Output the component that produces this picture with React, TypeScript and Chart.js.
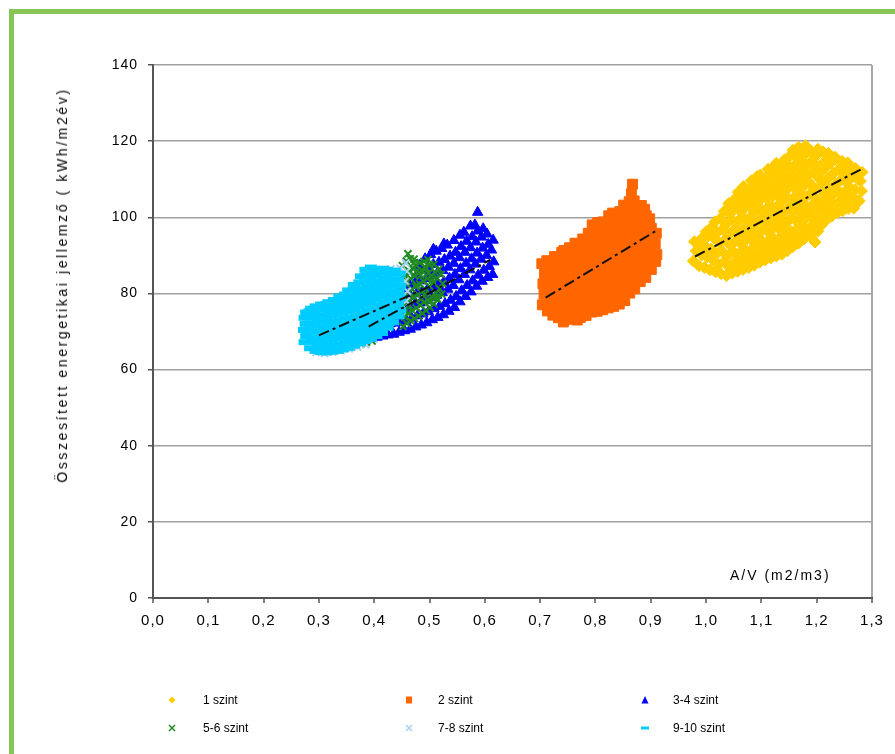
import React, { useEffect, useRef } from "react";
import { Chart, registerables } from "chart.js";

Chart.register(...registerables);

type P = [number, number];

const seriesNames = ["1 szint", "2 szint", "3-4 szint", "5-6 szint", "7-8 szint", "9-10 szint"];
const seriesColors = ["#FFCC00", "#FF6600", "#0000FF", "#1E8A1E", "#A6D2F8", "#00CCFF"];

const yAxisTitle = "Összesített energetikai jellemző ( kWh/m2év)";
const xAxisTitle = "A/V (m2/m3)";

// 1 szint
const szint1: P[] = [
  [0.977,88.5],[0.982,91.2],[0.979,93.6],
  [0.987,87.3],[0.992,90.1],[0.989,92.8],[0.994,94.7],
  [0.997,86.8],[1.002,89.6],[0.999,92.3],[1.004,95.1],[1.000,96.2],
  [1.007,86.2],[1.012,88.9],[1.009,91.7],[1.014,94.6],[1.010,97.4],
  [1.017,85.7],[1.022,87.6],[1.019,90.4],[1.024,93.3],[1.020,96.0],[1.016,98.8],
  [1.027,85.2],[1.032,88.3],[1.029,91.1],[1.034,94.0],[1.030,96.9],[1.026,99.7],[1.033,101.6],
  [1.037,84.7],[1.042,86.9],[1.039,89.8],[1.044,92.6],[1.040,95.4],[1.036,98.2],[1.043,100.9],[1.041,103.6],
  [1.047,85.3],[1.052,88.1],[1.049,91.0],[1.054,93.9],[1.050,96.6],[1.046,99.5],[1.053,102.3],[1.051,104.7],
  [1.057,85.8],[1.062,87.4],[1.059,90.2],[1.064,92.9],[1.060,95.8],[1.056,98.7],[1.063,101.4],[1.061,104.1],[1.058,106.6],
  [1.067,86.3],[1.072,89.0],[1.069,91.8],[1.074,94.6],[1.070,97.3],[1.066,100.2],[1.073,103.0],[1.071,105.7],[1.068,108.1],
  [1.077,86.8],[1.082,88.2],[1.079,90.9],[1.084,93.7],[1.080,96.5],[1.076,99.3],[1.083,102.1],[1.081,104.8],[1.078,107.5],[1.082,109.6],
  [1.087,87.4],[1.092,89.9],[1.089,92.7],[1.094,95.5],[1.090,98.3],[1.086,101.1],[1.093,103.9],[1.091,106.6],[1.088,109.3],[1.092,110.7],
  [1.097,88.2],[1.102,91.3],[1.099,94.1],[1.104,96.9],[1.100,99.7],[1.096,102.6],[1.103,105.4],[1.101,108.2],[1.098,111.1],
  [1.107,88.8],[1.112,90.4],[1.109,93.2],[1.114,96.0],[1.110,98.8],[1.106,101.7],[1.113,104.5],[1.111,107.3],[1.108,110.0],[1.112,112.6],
  [1.117,89.3],[1.122,92.1],[1.119,94.9],[1.124,97.8],[1.120,100.6],[1.116,103.3],[1.123,106.2],[1.121,109.0],[1.118,111.8],[1.122,113.2],
  [1.127,89.8],[1.132,91.4],[1.129,93.9],[1.134,96.7],[1.130,99.5],[1.126,102.4],[1.133,105.1],[1.131,107.9],[1.128,110.7],[1.132,113.5],[1.127,114.2],
  [1.137,90.3],[1.142,92.8],[1.139,95.6],[1.144,98.4],[1.140,101.3],[1.136,104.0],[1.143,106.9],[1.141,109.6],[1.138,112.4],[1.142,115.1],
  [1.147,91.2],[1.152,94.1],[1.149,96.9],[1.154,99.8],[1.150,102.6],[1.146,105.4],[1.153,108.3],[1.151,111.1],[1.148,113.8],[1.152,116.2],
  [1.157,92.3],[1.162,93.5],[1.159,96.2],[1.164,99.0],[1.160,101.9],[1.156,104.7],[1.163,107.5],[1.161,110.3],[1.158,113.2],[1.162,115.9],[1.157,117.6],
  [1.167,93.2],[1.172,95.3],[1.169,98.1],[1.174,100.9],[1.170,103.7],[1.166,106.5],[1.173,109.4],[1.171,112.2],[1.168,114.9],[1.172,117.7],[1.167,118.4],
  [1.177,94.3],[1.182,96.8],[1.179,99.6],[1.184,102.5],[1.180,105.3],[1.176,108.1],[1.183,110.9],[1.181,113.7],[1.178,116.5],[1.180,118.8],
  [1.187,95.2],[1.192,97.9],[1.189,100.7],[1.194,103.5],[1.190,106.4],[1.186,109.2],[1.193,112.0],[1.191,114.8],[1.188,117.6],
  [1.197,93.5],[1.202,96.3],[1.199,99.1],[1.204,101.9],[1.200,104.7],[1.196,107.6],[1.203,110.4],[1.201,113.2],[1.198,116.0],[1.202,117.9],
  [1.207,97.7],[1.212,100.4],[1.209,103.2],[1.214,106.1],[1.210,108.9],[1.206,111.7],[1.213,114.5],[1.211,117.2],
  [1.217,99.2],[1.222,101.8],[1.219,104.6],[1.224,107.4],[1.220,110.2],[1.216,113.0],[1.223,115.8],[1.221,116.8],
  [1.227,100.3],[1.232,103.1],[1.229,105.9],[1.234,108.7],[1.230,111.5],[1.226,114.3],[1.233,115.8],
  [1.237,101.2],[1.242,104.2],[1.239,107.0],[1.244,109.8],[1.240,112.6],[1.236,115.4],
  [1.247,101.7],[1.252,103.6],[1.249,106.4],[1.254,109.2],[1.250,112.0],[1.246,114.7],
  [1.257,102.3],[1.262,105.1],[1.259,107.9],[1.264,110.6],[1.260,113.4],[1.256,114.3],
  [1.267,102.4],[1.272,104.4],[1.269,107.2],[1.274,110.0],[1.270,112.8],
  [1.277,104.3],[1.281,106.9],[1.279,109.5],[1.282,111.8],
];

// 2 szint
const szint2: P[] = [
  [0.704,77.0],[0.707,79.8],[0.705,82.5],[0.708,85.2],[0.703,87.8],
  [0.713,75.4],[0.717,78.1],[0.714,80.9],[0.718,83.6],[0.715,86.3],[0.712,88.6],
  [0.723,74.3],[0.727,77.0],[0.724,79.7],[0.728,82.4],[0.725,85.1],[0.722,87.8],[0.726,89.7],
  [0.733,73.6],[0.737,76.2],[0.734,78.9],[0.738,81.6],[0.735,84.3],[0.732,87.0],[0.736,89.6],[0.739,90.8],
  [0.742,72.5],[0.747,75.1],[0.744,77.8],[0.748,80.5],[0.745,83.2],[0.742,85.9],[0.746,88.6],[0.743,91.3],
  [0.753,73.2],[0.757,75.9],[0.754,78.6],[0.758,81.3],[0.755,84.0],[0.752,86.7],[0.756,89.4],[0.753,92.0],
  [0.767,73.0],[0.763,74.6],[0.766,77.3],[0.762,80.0],[0.765,82.7],[0.768,85.4],[0.764,88.1],[0.767,90.8],[0.763,93.2],
  [0.773,73.7],[0.777,76.4],[0.774,79.1],[0.778,81.8],[0.775,84.5],[0.772,87.2],[0.776,89.9],[0.773,92.6],[0.777,94.3],
  [0.783,74.2],[0.787,76.9],[0.784,79.6],[0.788,82.3],[0.785,85.0],[0.782,87.7],[0.786,90.4],[0.783,93.1],[0.787,95.8],
  [0.793,75.1],[0.797,77.8],[0.794,80.5],[0.798,83.2],[0.795,85.9],[0.792,88.6],[0.796,91.3],[0.793,94.0],[0.797,96.7],[0.794,98.0],
  [0.803,75.3],[0.807,78.0],[0.804,80.7],[0.808,83.4],[0.805,86.1],[0.802,88.8],[0.806,91.5],[0.803,94.2],[0.807,96.9],[0.804,98.6],
  [0.813,75.7],[0.817,77.2],[0.814,79.9],[0.818,82.6],[0.815,85.3],[0.812,88.0],[0.816,90.7],[0.813,93.4],[0.817,96.1],[0.814,98.8],
  [0.823,76.2],[0.827,78.9],[0.824,81.6],[0.828,84.3],[0.825,87.0],[0.822,89.7],[0.826,92.4],[0.823,95.1],[0.827,97.8],[0.824,100.4],
  [0.833,76.6],[0.837,78.4],[0.834,81.1],[0.838,83.8],[0.835,86.5],[0.832,89.2],[0.836,91.9],[0.833,94.6],[0.837,97.3],[0.834,100.0],[0.831,101.1],
  [0.843,77.2],[0.847,79.9],[0.844,82.6],[0.848,85.3],[0.845,88.0],[0.842,90.7],[0.846,93.4],[0.843,96.1],[0.847,98.8],[0.844,101.5],
  [0.853,78.1],[0.857,80.7],[0.854,83.4],[0.858,86.1],[0.855,88.8],[0.852,91.5],[0.856,94.2],[0.853,96.9],[0.857,99.6],[0.854,102.3],[0.851,103.2],
  [0.862,80.1],[0.865,82.8],[0.861,85.5],[0.864,88.2],[0.862,90.9],[0.859,93.6],[0.863,96.3],[0.860,99.0],[0.864,101.7],[0.861,104.1],[0.865,106.2],[0.867,108.7],
  [0.871,81.2],[0.874,83.9],[0.870,86.6],[0.873,89.3],[0.871,92.0],[0.868,94.7],[0.872,97.4],[0.869,100.1],[0.873,102.8],[0.870,104.3],
  [0.881,83.1],[0.884,85.8],[0.880,88.5],[0.883,91.2],[0.881,93.9],[0.878,96.6],[0.882,99.3],[0.879,102.0],[0.883,103.1],
  [0.891,84.2],[0.894,86.9],[0.890,89.6],[0.893,92.3],[0.891,95.0],[0.888,97.7],[0.892,100.4],[0.889,102.1],
  [0.901,86.3],[0.904,89.0],[0.900,91.7],[0.903,94.4],[0.901,97.1],[0.898,99.6],
  [0.909,88.4],[0.911,90.2],[0.908,93.0],[0.910,95.8],
];

// 3-4 szint
const szint34: P[] = [
  [0.385,68.4],[0.388,71.0],
  [0.395,68.2],[0.398,70.9],[0.393,72.8],
  [0.405,68.5],[0.408,71.4],[0.403,73.9],
  [0.415,68.8],[0.418,71.6],[0.413,74.5],
  [0.425,69.1],[0.428,72.0],[0.423,74.8],[0.426,76.2],
  [0.435,69.3],[0.438,72.2],[0.433,75.1],[0.436,77.4],
  [0.445,69.8],[0.448,72.7],[0.443,75.6],[0.446,78.5],
  [0.455,70.2],[0.458,73.0],[0.453,75.9],[0.456,78.8],[0.454,81.0],
  [0.465,70.6],[0.468,73.5],[0.463,76.4],[0.466,79.3],[0.464,82.2],
  [0.475,71.2],[0.478,74.1],[0.473,77.0],[0.476,79.9],[0.474,82.8],[0.477,85.0],
  [0.485,71.7],[0.488,74.6],[0.483,77.5],[0.486,80.4],[0.484,83.3],[0.487,86.2],[0.482,87.4],
  [0.495,72.3],[0.498,75.2],[0.493,78.1],[0.496,81.0],[0.494,83.9],[0.497,86.8],[0.492,89.1],
  [0.505,73.1],[0.508,76.0],[0.503,78.9],[0.506,81.8],[0.504,84.7],[0.507,87.6],[0.502,90.2],[0.507,91.6],
  [0.515,73.7],[0.518,76.6],[0.513,79.5],[0.516,82.4],[0.514,85.3],[0.517,88.2],[0.512,91.1],
  [0.525,74.4],[0.528,77.3],[0.523,80.2],[0.526,83.1],[0.524,86.0],[0.527,88.9],[0.522,91.8],[0.526,93.0],
  [0.535,75.3],[0.538,78.2],[0.533,81.1],[0.536,84.0],[0.534,86.9],[0.537,89.8],[0.532,92.7],
  [0.545,76.3],[0.548,79.2],[0.543,82.1],[0.546,85.0],[0.544,87.9],[0.547,90.8],[0.544,93.9],
  [0.555,77.8],[0.558,80.7],[0.553,83.6],[0.556,86.5],[0.554,89.4],[0.557,92.3],[0.555,95.3],
  [0.565,79.2],[0.568,82.1],[0.563,85.0],[0.566,87.9],[0.564,90.8],[0.567,93.7],[0.562,96.1],
  [0.575,80.4],[0.578,83.3],[0.573,86.2],[0.576,89.1],[0.574,92.0],[0.577,94.9],[0.574,97.7],
  [0.585,81.9],[0.588,84.8],[0.583,87.7],[0.586,90.6],[0.584,93.5],[0.587,96.4],[0.582,98.0],[0.587,101.3],
  [0.595,83.2],[0.598,86.1],[0.593,89.0],[0.596,91.9],[0.594,94.8],[0.597,97.0],
  [0.605,84.2],[0.608,87.1],[0.603,90.0],[0.606,92.9],[0.604,95.6],
  [0.614,85.0],[0.616,88.3],[0.612,91.4],[0.615,94.0],
];

// 5-6 szint
const szint56: P[] = [
  [0.352,66.1],[0.357,67.9],
  [0.364,66.4],[0.368,68.6],
  [0.376,66.7],[0.373,69.3],[0.378,71.1],
  [0.386,67.2],[0.383,70.0],[0.388,72.5],
  [0.396,67.5],[0.393,70.3],[0.398,73.0],[0.395,74.7],
  [0.406,71.2],[0.403,73.5],[0.408,76.0],
  [0.416,72.6],[0.413,74.4],[0.418,76.9],
  [0.426,73.4],[0.423,75.2],[0.428,77.6],[0.425,79.5],
  [0.436,74.1],[0.433,75.9],[0.438,78.3],[0.435,81.0],
  [0.446,74.6],[0.443,76.5],[0.448,79.0],[0.445,81.7],[0.447,84.1],
  [0.452,71.3],[0.455,73.8],[0.451,76.3],[0.454,79.1],[0.452,81.9],[0.455,84.7],[0.451,87.3],
  [0.459,72.1],[0.462,74.8],[0.458,77.6],[0.461,80.4],[0.459,83.2],[0.462,86.0],[0.458,88.5],[0.461,90.4],
  [0.466,72.8],[0.469,75.5],[0.465,78.3],[0.468,81.1],[0.466,83.9],[0.469,86.7],[0.465,89.1],
  [0.473,73.4],[0.476,76.2],[0.472,79.0],[0.475,81.8],[0.473,84.6],[0.476,87.4],[0.472,89.0],
  [0.480,74.1],[0.483,76.9],[0.479,79.7],[0.482,82.5],[0.480,85.3],[0.483,88.1],
  [0.487,74.8],[0.490,77.6],[0.486,80.4],[0.489,83.2],[0.487,86.0],[0.490,88.4],
  [0.494,75.5],[0.497,78.3],[0.493,81.1],[0.496,83.9],[0.494,86.7],[0.497,88.9],
  [0.501,76.3],[0.504,79.1],[0.500,81.9],[0.503,84.7],[0.501,87.5],
  [0.508,77.2],[0.511,80.0],[0.507,82.8],[0.510,85.6],[0.508,87.6],
  [0.515,78.4],[0.518,81.2],[0.514,84.0],[0.517,86.4],
  [0.522,79.8],[0.524,82.6],[0.521,85.0],
  [0.456,75.2],[0.463,77.0],[0.470,79.4],[0.477,82.2],[0.484,84.8],[0.491,86.8],[0.498,85.3],[0.505,83.5],
  [0.457,82.6],[0.464,85.4],[0.471,87.9],[0.478,86.0],[0.485,78.6],[0.492,79.9],[0.499,77.8],[0.512,79.0],
];

// 7-8 szint
const szint78: P[] = [
  [0.295,64.5],[0.298,67.0],[0.293,69.5],
  [0.310,64.2],[0.313,66.8],[0.308,69.4],[0.311,72.0],
  [0.325,64.6],[0.328,67.2],[0.323,69.8],[0.326,72.4],[0.324,74.5],
  [0.340,65.0],[0.343,67.6],[0.338,70.2],[0.341,72.8],[0.339,75.4],
  [0.355,65.4],[0.358,68.0],[0.353,70.6],[0.356,73.2],[0.354,75.8],[0.357,78.0],
  [0.370,65.9],[0.373,68.5],[0.368,71.1],[0.371,73.7],[0.369,76.3],[0.372,78.9],
  [0.385,66.5],[0.388,69.1],[0.383,71.7],[0.386,74.3],[0.384,76.9],[0.387,79.5],[0.385,81.5],
  [0.400,68.0],[0.403,70.4],[0.398,72.6],[0.401,75.0],[0.399,77.6],[0.402,80.2],[0.400,82.8],
  [0.415,70.2],[0.418,72.8],[0.413,75.2],[0.416,77.8],[0.414,80.4],[0.417,83.0],[0.415,85.2],
  [0.430,72.5],[0.433,74.9],[0.428,77.3],[0.431,79.8],[0.429,82.2],[0.432,84.6],[0.430,86.4],
  [0.445,75.0],[0.448,77.4],[0.443,79.8],[0.446,82.2],[0.444,84.6],[0.447,86.6],
  [0.458,78.0],[0.460,80.6],[0.456,83.2],[0.459,85.8],[0.457,88.0],
];

// 9-10 szint
const szint910: P[] = [
  [0.274,67.2],[0.277,68.8],[0.273,70.4],[0.276,72.0],[0.274,73.6],[0.277,75.0],
  [0.284,65.6],[0.287,67.3],[0.283,68.9],[0.286,70.5],[0.284,72.1],[0.287,73.7],[0.283,75.3],[0.286,76.0],
  [0.294,64.9],[0.297,66.4],[0.293,68.0],[0.296,69.6],[0.294,71.2],[0.297,72.8],[0.293,74.4],[0.296,76.0],[0.294,76.6],
  [0.304,64.6],[0.307,66.2],[0.303,67.8],[0.306,69.4],[0.304,71.0],[0.307,72.6],[0.303,74.2],[0.306,75.8],[0.304,77.1],
  [0.314,64.5],[0.317,66.0],[0.313,67.6],[0.316,69.2],[0.314,70.8],[0.317,72.4],[0.313,74.0],[0.316,75.6],[0.314,77.2],[0.317,77.7],
  [0.324,64.7],[0.327,66.3],[0.323,67.9],[0.326,69.5],[0.324,71.1],[0.327,72.7],[0.323,74.3],[0.326,75.9],[0.324,77.5],[0.327,78.3],
  [0.334,64.9],[0.337,66.5],[0.333,68.1],[0.336,69.7],[0.334,71.3],[0.337,72.9],[0.333,74.5],[0.336,76.1],[0.334,77.7],[0.337,79.2],
  [0.344,65.3],[0.347,66.9],[0.343,68.5],[0.346,70.1],[0.344,71.7],[0.347,73.3],[0.343,74.9],[0.346,76.5],[0.344,78.1],[0.347,79.7],
  [0.354,65.7],[0.357,67.3],[0.353,68.9],[0.356,70.5],[0.354,72.1],[0.357,73.7],[0.353,75.3],[0.356,76.9],[0.354,78.5],[0.357,80.1],[0.353,80.8],
  [0.364,66.3],[0.367,67.9],[0.363,69.5],[0.366,71.1],[0.364,72.7],[0.367,74.3],[0.363,75.9],[0.366,77.5],[0.364,79.1],[0.367,80.7],[0.363,82.2],
  [0.374,66.9],[0.377,68.5],[0.373,70.1],[0.376,71.7],[0.374,73.3],[0.377,74.9],[0.373,76.5],[0.376,78.1],[0.374,79.7],[0.377,81.3],[0.373,82.9],[0.376,84.5],
  [0.384,67.5],[0.387,69.1],[0.383,70.7],[0.386,72.3],[0.384,73.9],[0.387,75.5],[0.383,77.1],[0.386,78.7],[0.384,80.3],[0.387,81.9],[0.383,83.5],[0.386,85.1],[0.384,86.2],
  [0.394,68.1],[0.397,69.7],[0.393,71.3],[0.396,72.9],[0.394,74.5],[0.397,76.1],[0.393,77.7],[0.396,79.3],[0.394,80.9],[0.397,82.5],[0.393,84.1],[0.396,85.7],[0.394,86.8],
  [0.404,68.8],[0.407,70.4],[0.403,72.0],[0.406,73.6],[0.404,75.2],[0.407,76.8],[0.403,78.4],[0.406,80.0],[0.404,81.6],[0.407,83.2],[0.403,84.8],[0.406,86.4],
  [0.414,69.6],[0.417,71.2],[0.413,72.8],[0.416,74.4],[0.414,76.0],[0.417,77.6],[0.413,79.2],[0.416,80.8],[0.414,82.4],[0.417,84.0],[0.413,85.6],[0.416,86.5],
  [0.424,71.0],[0.427,72.6],[0.423,74.2],[0.426,75.8],[0.424,77.4],[0.427,79.0],[0.423,80.6],[0.426,82.2],[0.424,83.8],[0.427,85.4],[0.423,86.2],
  [0.434,72.4],[0.437,74.0],[0.433,75.6],[0.436,77.2],[0.434,78.8],[0.437,80.4],[0.433,82.0],[0.436,83.6],[0.434,85.2],[0.437,86.0],
  [0.444,74.0],[0.447,75.6],[0.443,77.2],[0.446,78.8],[0.444,80.4],[0.447,82.0],[0.443,83.6],[0.446,85.2],
];

// trend lines (start / end)
const trend1: P[] = [[0.98, 89.7], [1.28, 112.6]];
const trend2: P[] = [[0.71, 78.9], [0.908, 96.3]];
const trend34: P[] = [[0.39, 71.3], [0.61, 88.9]];
const trend910: P[] = [[0.30, 69.0], [0.51, 82.4]];

const seriesData: P[][] = [szint1, szint2, szint34, szint56, szint78, szint910];
const trendData: P[][] = [trend1, trend2, trend34, trend910];

const FONT = "'Liberation Sans', Arial, sans-serif";

function LegendMarker({ idx }: { idx: number }) {
  const c = seriesColors[idx];
  let shape: React.ReactNode = null;
  if (idx === 0) shape = <polygon points="6,2.5 9.5,6 6,9.5 2.5,6" fill={c} />;
  else if (idx === 1) shape = <rect x={3} y={2.5} width={6} height={7} fill={c} />;
  else if (idx === 2) shape = <polygon points="6,2 9.5,9.5 2.5,9.5" fill={c} />;
  else if (idx === 3 || idx === 4)
    shape = (
      <g stroke={c} strokeWidth={1.5}>
        <line x1={3} y1={3} x2={9} y2={9} />
        <line x1={9} y1={3} x2={3} y2={9} />
      </g>
    );
  else shape = <rect x={2} y={4.5} width={8} height={3} fill={c} />;
  return (
    <svg width={12} height={12} style={{ display: "block" }}>
      {shape}
    </svg>
  );
}

const letterSpacingPlugin = {
  id: "tickLetterSpacing",
  beforeDraw(chart: any) {
    chart.ctx.letterSpacing = "1px";
  },
  afterDraw(chart: any) {
    chart.ctx.letterSpacing = "0px";
  },
};

export default function App() {
  const canvasRef = useRef<HTMLCanvasElement | null>(null);

  useEffect(() => {
    const canvas = canvasRef.current;
    if (!canvas) return;

    const styles = [
      { pointStyle: "rectRot", radius: 6, borderWidth: 1 },
      { pointStyle: "rect", radius: 7, borderWidth: 1 },
      { pointStyle: "triangle", radius: 6, borderWidth: 1 },
      { pointStyle: "crossRot", radius: 5, borderWidth: 2 },
      { pointStyle: "crossRot", radius: 5, borderWidth: 2 },
      { pointStyle: "line", radius: 6, borderWidth: 6 },
    ];

    const datasets: any[] = seriesData.map((pts, i) => ({
      label: seriesNames[i],
      data: pts.map(([x, y]) => ({ x, y })),
      pointStyle: styles[i].pointStyle,
      pointRadius: styles[i].radius,
      pointBorderWidth: styles[i].borderWidth,
      backgroundColor: seriesColors[i],
      borderColor: seriesColors[i],
      showLine: false,
      order: 6 - i,
    }));

    trendData.forEach((pts, i) => {
      datasets.push({
        label: "trend" + i,
        data: pts.map(([x, y]) => ({ x, y })),
        showLine: true,
        borderColor: "#111111",
        borderWidth: 2,
        borderDash: [11, 4, 3, 4],
        pointRadius: 0,
        fill: false,
        order: 0,
      });
    });

    const chart = new Chart(canvas, {
      type: "scatter",
      data: { datasets },
      plugins: [letterSpacingPlugin],
      options: {
        responsive: false,
        animation: false,
        events: [],
        layout: { padding: { left: 0, top: 65, right: 23, bottom: 116 } },
        plugins: { legend: { display: false }, tooltip: { enabled: false } },
        scales: {
          x: {
            type: "linear",
            min: 0,
            max: 1.3,
            afterFit: (s: any) => {
              s.height = 40;
            },
            ticks: {
              stepSize: 0.1,
              autoSkip: false,
              maxRotation: 0,
              padding: 9,
              color: "#000",
              font: { family: FONT, size: 15 },
              callback: (v: any) => Number(v).toFixed(1).replace(".", ","),
            },
            grid: {
              color: (ctx: any) =>
                ctx.tick && Math.abs(ctx.tick.value - 1.3) < 1e-6 ? "#a8a8a8" : "rgba(0,0,0,0)",
              lineWidth: 2,
              tickLength: 5,
              tickColor: "#555",
              tickWidth: 1.5,
            },
            border: { display: true, color: "#555", width: 2 },
          },
          y: {
            type: "linear",
            min: 0,
            max: 140,
            afterFit: (s: any) => {
              s.width = 153;
            },
            ticks: {
              stepSize: 20,
              padding: 10,
              color: "#000",
              font: { family: FONT, size: 14 },
            },
            grid: {
              color: (ctx: any) => (ctx.tick && ctx.tick.value === 0 ? "rgba(0,0,0,0)" : "#a0a0a0"),
              lineWidth: 1.5,
              tickLength: 5,
              tickColor: "#555",
              tickWidth: 1.5,
            },
            border: { display: true, color: "#555", width: 2 },
          },
        },
      } as any,
    });

    return () => {
      chart.destroy();
    };
  }, []);

  const legendCols = [172, 409, 645];
  const legendTextCols = [203, 438, 673];
  const legendRows = [700, 728];

  return (
    <div
      style={{
        position: "fixed",
        left: 0,
        top: 0,
        width: 895,
        height: 754,
        background: "#ffffff",
        overflow: "hidden",
        fontFamily: FONT,
      }}
    >
      <div
        style={{
          position: "absolute",
          left: 9,
          top: 9,
          width: 920,
          height: 800,
          border: "5px solid #86C556",
          boxSizing: "border-box",
        }}
      />
      <canvas
        ref={canvasRef}
        width={895}
        height={754}
        style={{ position: "absolute", left: 0, top: 0, width: 895, height: 754 }}
      />
      <div
        style={{
          position: "absolute",
          left: 62,
          top: 285,
          transform: "translate(-50%, -50%) rotate(-90deg)",
          whiteSpace: "nowrap",
          fontSize: 14,
          letterSpacing: "2.6px",
          color: "#000",
        }}
      >
        {yAxisTitle}
      </div>
      <div
        style={{
          position: "absolute",
          left: 730,
          top: 575,
          transform: "translateY(-50%)",
          whiteSpace: "nowrap",
          fontSize: 14,
          letterSpacing: "2px",
          color: "#000",
        }}
      >
        {xAxisTitle}
      </div>
      {seriesNames.map((name, i) => {
        const col = i % 3;
        const row = Math.floor(i / 3);
        return (
          <React.Fragment key={name}>
            <div
              style={{
                position: "absolute",
                left: legendCols[col] - 6,
                top: legendRows[row] - 6,
              }}
            >
              <LegendMarker idx={i} />
            </div>
            <div
              style={{
                position: "absolute",
                left: legendTextCols[col],
                top: legendRows[row],
                transform: "translateY(-50%)",
                fontSize: 12,
                whiteSpace: "nowrap",
                color: "#000",
              }}
            >
              {name}
            </div>
          </React.Fragment>
        );
      })}
    </div>
  );
}
